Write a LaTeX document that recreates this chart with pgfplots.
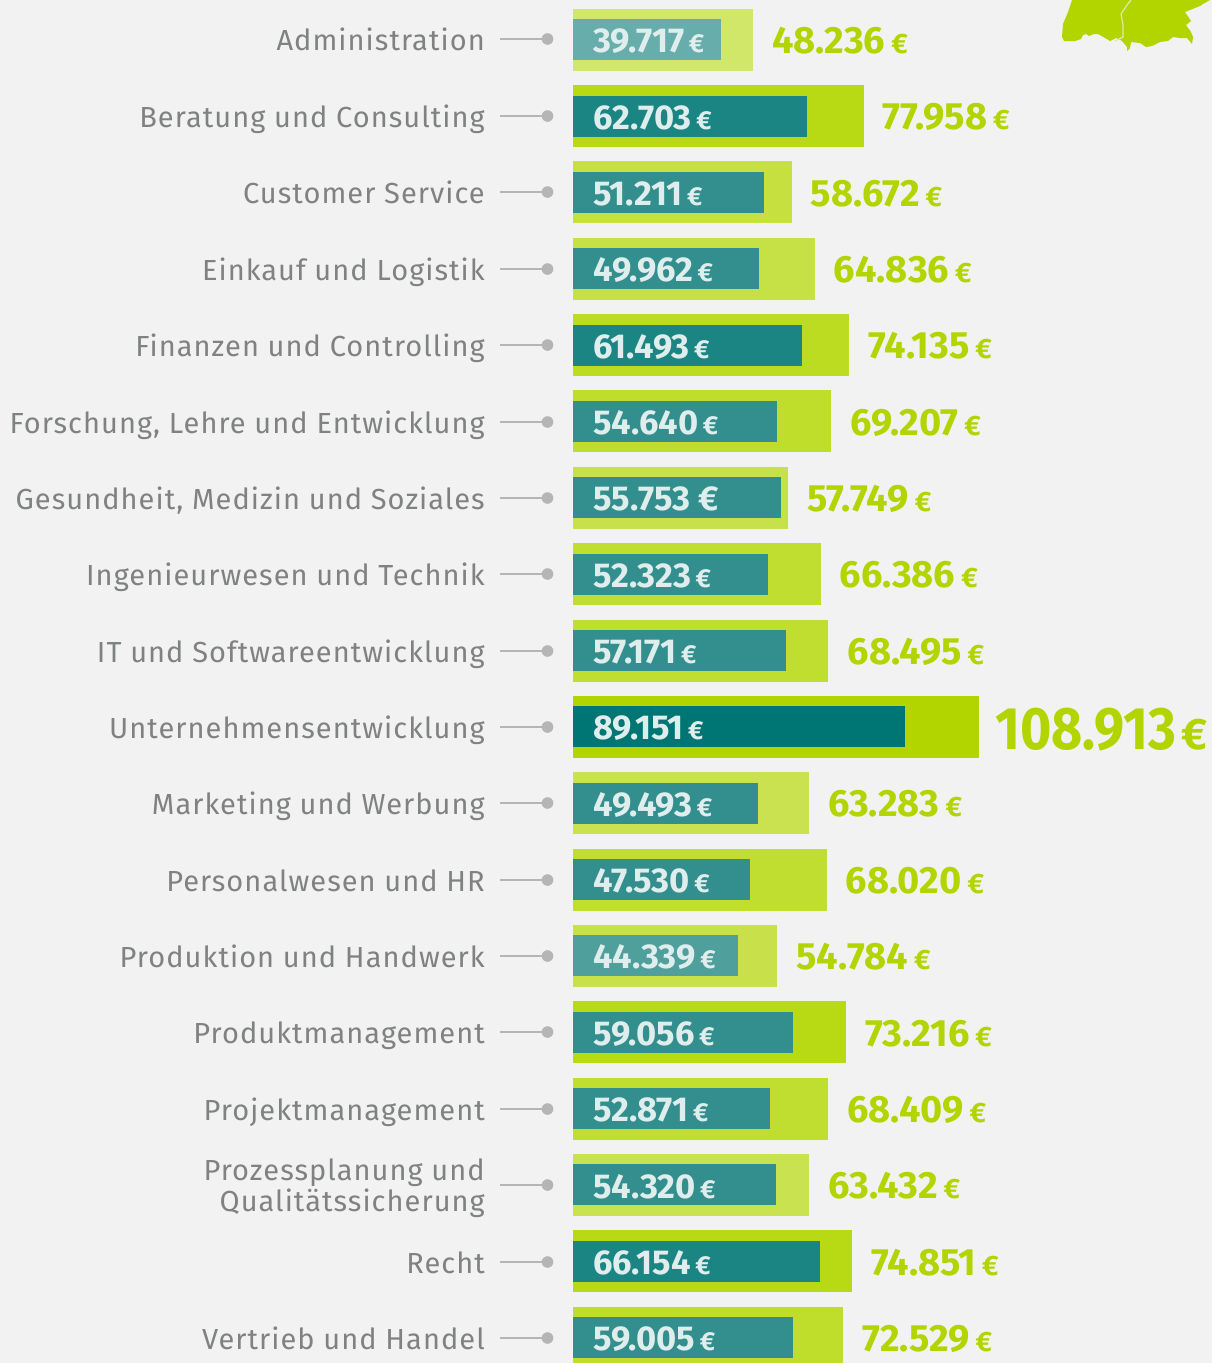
\documentclass[border=0pt]{standalone}
\usepackage{pgfplots}
\pgfplotsset{compat=1.18}
\usepackage{fontspec}
\setmainfont{Fira Sans}
\newfontfamily\lab[LetterSpace=3.6]{Fira Sans}
\definecolor{bg}{HTML}{F2F2F2}
\definecolor{lime}{HTML}{B2D500}
\definecolor{inntxt}{HTML}{DFEDEC}
\definecolor{txt}{HTML}{7F8281}
\definecolor{dotc}{HTML}{B5B5B5}
\newcommand{\defc}[1]{\definecolor{c#1}{HTML}{#1}}
\defc{D0E769}\defc{B7DA14}\defc{C6E040}\defc{C6E145}\defc{BBDC20}\defc{BFDE2C}\defc{C7E14A}\defc{BFDE30}\defc{B2D500}\defc{CBE250}\defc{BFDE2F}\defc{C8E14A}\defc{C9E250}
\defc{66ADAB}\defc{1B8583}\defc{338F8E}\defc{007674}\defc{4F9F9D}
\newcommand{\rowbars}[5]{%
  \addplot[xbar,bar width=62pt,bar shift=0pt,draw=none,fill=c#4] coordinates {(#3,#1)};
  \addplot[xbar,bar width=41pt,bar shift=0pt,draw=none,fill=c#5] coordinates {(#2,#1)};
}
\newcommand{\inval}[2]{%
  \node[anchor=west,inner sep=0pt,text=inntxt,xshift=20pt,yshift=-1.5pt] at (axis cs:0,#1) {\fontsize{34.5}{34.5}\bfseries #2\hspace{4.5pt}{\fontsize{26}{26}\selectfont €}};
}
\newcommand{\outval}[3]{%
  \node[anchor=west,inner sep=0pt,text=lime,xshift=19pt,yshift=-1pt] at (axis cs:#1,#2) {\fontsize{38}{38}\bfseries #3\hspace{6pt}{\fontsize{28}{28}\selectfont €}};
}
\newcommand{\vals}[4]{%
  \inval{#1}{#2}
  \outval{#3}{#1}{#4}
}
\newcommand{\lbl}[2]{%
  \draw[dotc,line width=1.5pt] (axis cs:500,#1) -- (axis cs:547,#1);
  \fill[dotc] (axis cs:547.5,#1) circle[radius=5.8pt];
  \node[anchor=base east,inner sep=0pt,text=txt,yshift=-11.5pt,font={\fontsize{29}{32}\selectfont\lab}] at (axis cs:485,#1) {#2};
}
\begin{document}
\begin{tikzpicture}
\fill[bg] (0,0) rectangle (1212pt,1363pt);
% bars, in euros and row numbers
\begin{axis}[at={(0,0)},anchor=south west,scale only axis,width=1212pt,height=1363pt,hide axis,
  xmin=-153702,xmax=171406,ymin=-0.5200,ymax=17.332,y dir=reverse,clip=true]
\rowbars{0}{39717}{48236}{D0E769}{66ADAB}
\rowbars{1}{62703}{77958}{B7DA14}{1B8583}
\rowbars{2}{51211}{58672}{C6E040}{338F8E}
\rowbars{3}{49962}{64836}{C6E145}{338F8E}
\rowbars{4}{61493}{74135}{BBDC20}{1B8583}
\rowbars{5}{54640}{69207}{BFDE2C}{338F8E}
\rowbars{6}{55753}{57749}{C7E14A}{338F8E}
\rowbars{7}{52323}{66386}{BFDE30}{338F8E}
\rowbars{8}{57171}{68495}{BFDE30}{338F8E}
\rowbars{9}{89151}{108913}{B2D500}{007674}
\rowbars{10}{49493}{63283}{CBE250}{338F8E}
\rowbars{11}{47530}{68020}{BFDE2F}{338F8E}
\rowbars{12}{44339}{54784}{C8E14A}{4F9F9D}
\rowbars{13}{59056}{73216}{B7DA14}{338F8E}
\rowbars{14}{52871}{68409}{BFDE2F}{338F8E}
\rowbars{15}{54320}{63432}{C9E250}{338F8E}
\rowbars{16}{66154}{74851}{B7DA14}{1B8583}
\rowbars{17}{59005}{72529}{BFDE2C}{338F8E}
\vals{0}{39.717}{48236}{48.236}
\vals{1}{62.703}{77958}{77.958}
\vals{2}{51.211}{58672}{58.672}
\vals{3}{49.962}{64836}{64.836}
\vals{4}{61.493}{74135}{74.135}
\vals{5}{54.640}{69207}{69.207}
\node[anchor=west,inner sep=0pt,text=inntxt,xshift=20pt,yshift=-1.5pt] at (axis cs:0,6) {\fontsize{34.5}{34.5}\bfseries 55.753\hspace{8pt}€};
\outval{57749}{6}{57.749}
\vals{7}{52.323}{66386}{66.386}
\vals{8}{57.171}{68495}{68.495}
\inval{9}{89.151}
\node[anchor=west,inner sep=0pt,text=lime,xshift=16pt,yshift=-3pt] at (axis cs:108913,9) {\scalebox{0.895}[1]{\fontsize{60}{60}\bfseries 108.913}\hspace{5pt}{\fontsize{44}{44}\bfseries\selectfont €}};
\vals{10}{49.493}{63283}{63.283}
\vals{11}{47.530}{68020}{68.020}
\vals{12}{44.339}{54784}{54.784}
\vals{13}{59.056}{73216}{73.216}
\vals{14}{52.871}{68409}{68.409}
\vals{15}{54.320}{63432}{63.432}
\vals{16}{66.154}{74851}{74.851}
\vals{17}{59.005}{72529}{72.529}
\end{axis}
% labels and map, in picture pixels
\begin{axis}[at={(0,0)},anchor=south west,scale only axis,width=1212pt,height=1363pt,hide axis,
  xmin=0,xmax=1212,ymin=0,ymax=1363,y dir=reverse,clip=true]
\addplot[fill=lime,draw=none] coordinates {(1072,0)(1068,12)(1063,24)(1062,37)(1064,41)(1075,41)(1081,39)(1083,35)(1086,34)(1089,36)(1094,34)(1098,34)(1105,38)(1110,41)(1116,38)(1122,41)(1127,47)(1127,51)(1130,48)(1131,42)(1140,43)(1146,47)(1152,46)(1160,42)(1168,41)(1173,37)(1180,38)(1187,38)(1192,44)(1193,37)(1191,32)(1186,25)(1191,21)(1185,12)(1200,6)(1203,4)(1210,0)} -- cycle;
\addplot[draw=bg!70!lime,line width=1.2pt] coordinates {(1131,0)(1127,5)(1121,14)(1123,25)(1123,37)(1115,41)};
\lbl{39}{Administration}
\lbl{116}{Beratung und Consulting}
\lbl{192}{Customer Service}
\lbl{269}{Einkauf und Logistik}
\lbl{345}{Finanzen und Controlling}
\lbl{422}{Forschung, Lehre und Entwicklung}
\lbl{498}{Gesundheit, Medizin und Soziales}
\lbl{574}{Ingenieurwesen und Technik}
\lbl{651}{IT und Softwareentwicklung}
\lbl{727}{Unternehmensentwicklung}
\lbl{803}{Marketing und Werbung}
\lbl{880}{Personalwesen und HR}
\lbl{956}{Produktion und Handwerk}
\lbl{1032}{Produktmanagement}
\lbl{1109}{Projektmanagement}
\draw[dotc,line width=1.5pt] (axis cs:500,1185) -- (axis cs:547,1185);
\fill[dotc] (axis cs:547.5,1185) circle[radius=5.8pt];
\node[anchor=east,inner sep=0pt,align=right,text=txt,font={\fontsize{29}{31.5}\selectfont\lab}] at (axis cs:485,1188) {Prozessplanung und\\Qualitätssicherung};
\lbl{1262}{Recht}
\lbl{1338}{Vertrieb und Handel}
\end{axis}
\end{tikzpicture}
\end{document}
